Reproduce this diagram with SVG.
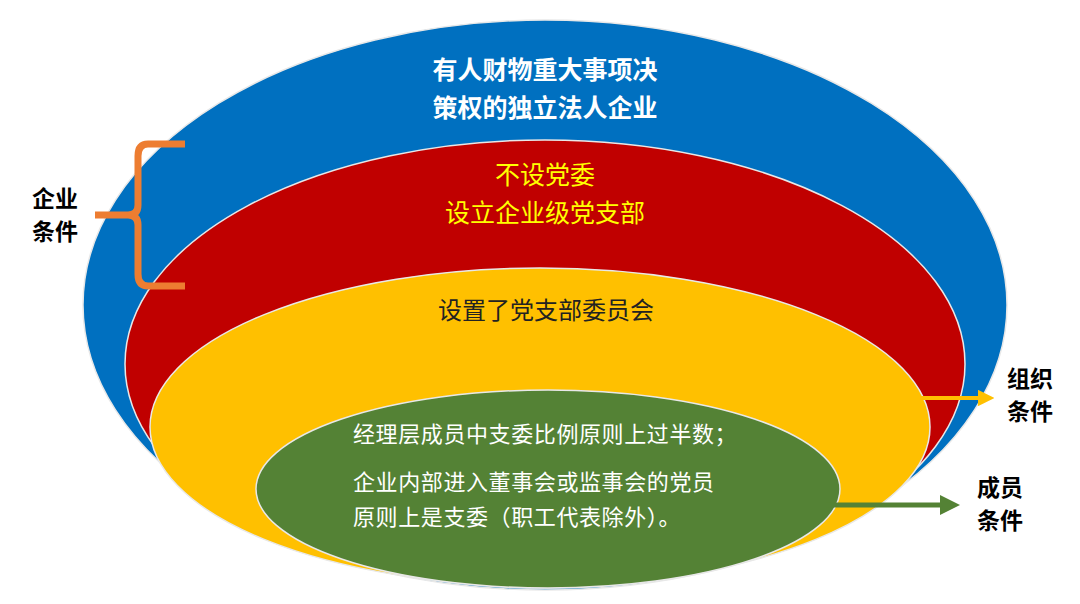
<svg xmlns="http://www.w3.org/2000/svg" width="1080" height="604" viewBox="0 0 1080 604">
<style>
.e{stroke:#e8e8e8;stroke-width:1.5}
text{font-family:"Noto Sans CJK SC","Noto Sans",sans-serif;text-anchor:middle}
.b{font-weight:bold}
.g{font-size:22px;fill:#fff;text-anchor:start;letter-spacing:0.6px}
</style>
<defs>
<marker id="ay" viewBox="0 0 10 10" refX="5" refY="5" markerWidth="4.2" markerHeight="4.2" orient="auto"><path d="M0,0L10,5L0,10z" fill="#ffc000"/></marker>
<marker id="ag" viewBox="0 0 10 10" refX="5" refY="5" markerWidth="4" markerHeight="4" orient="auto"><path d="M0,0L10,5L0,10z" fill="#548235"/></marker>
</defs>
<rect width="1080" height="604" fill="#fff"/>
<g id="blue"><ellipse class="e" cx="545" cy="305" rx="462" ry="285" fill="#0070c0"/>
<text class="b" x="545" y="79" font-size="25" fill="#fff">有人财物重大事项决</text>
<text class="b" x="545" y="117" font-size="25" fill="#fff">策权的独立法人企业</text></g>
<g id="red"><ellipse class="e" cx="545" cy="364" rx="420" ry="224" fill="#c00000"/>
<text x="545" y="184" font-size="25" fill="#ffff00">不设党委</text>
<text x="545" y="222" font-size="25" fill="#ffff00">设立企业级党支部</text></g>
<g id="yellow"><ellipse class="e" cx="540" cy="427" rx="390" ry="159" fill="#ffc000"/>
<text x="546" y="319" font-size="24" fill="#222">设置了党支部委员会</text></g>
<g id="green"><ellipse class="e" cx="548" cy="489" rx="292" ry="99" fill="#548235"/>
<text class="g" x="353" y="442">经理层成员中支委比例原则上过半数；</text>
<text class="g" x="353" y="490">企业内部进入董事会或监事会的党员</text>
<text class="g" x="353" y="525">原则上是支委（职工代表除外）。</text></g>
<g id="connectors">
<path d="M185,144H148Q138,144 138,156V205Q138,215 128,215H95M128,215Q138,215 138,225V274Q138,286 148,286H185" fill="none" stroke="#ed7d31" stroke-width="7"/>
<line x1="918" y1="398" x2="986" y2="398" stroke="#ffc000" stroke-width="4" marker-end="url(#ay)"/>
<line x1="826" y1="505" x2="950" y2="505" stroke="#548235" stroke-width="5" marker-end="url(#ag)"/>
</g>
<g id="labels" fill="#000">
<text class="b" x="55" y="207" font-size="23">企业</text><text class="b" x="55" y="240" font-size="23">条件</text>
<text class="b" x="1030" y="387" font-size="23">组织</text><text class="b" x="1030" y="420" font-size="23">条件</text>
<text class="b" x="1000" y="496" font-size="23">成员</text><text class="b" x="1000" y="529" font-size="23">条件</text>
</g>
</svg>
